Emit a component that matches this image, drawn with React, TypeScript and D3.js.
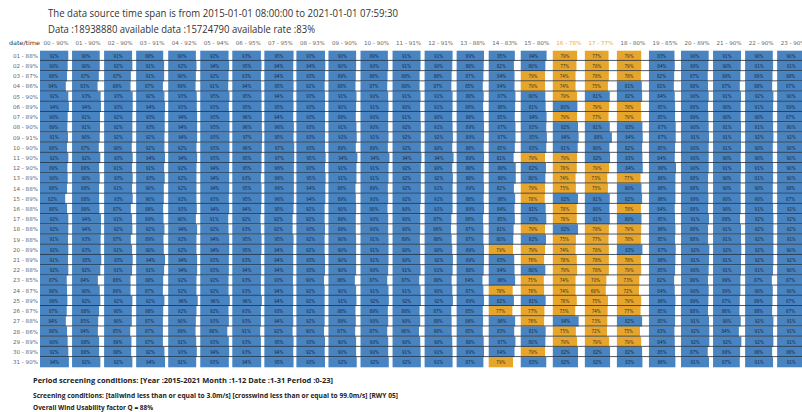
import React, { useEffect } from "react";
import * as d3 from "d3";

// hour columns and their overall rate
const hourLabels = ["00","01","02","03","04","05","06","07","08","09","10","11","12","13","14","15","16","17","18","19","20","21","22","23"];
const hourRates = [90,90,90,91,92,94,95,95,93,90,90,91,91,88,83,80,78,77,80,85,89,90,90,90];

// date rows and their overall rate
const dateLabels = ["01","02","03","04","05","06","07","08","09","10","11","12","13","14","15","16","17","18","19","20","21","22","23","24","25","26","27","28","29","30","31"];
const dateRates = [88,89,87,86,90,89,89,90,91,90,90,90,89,88,89,88,88,88,88,89,89,88,85,87,89,87,88,86,89,89,90];

// usability per date (row) x hour (column)
const cellRates = [
  [92,90,91,88,90,92,93,95,93,90,89,91,91,89,85,84,79,77,79,83,90,91,90,90],
  [90,90,92,91,92,94,95,94,94,90,90,91,90,88,82,80,77,78,79,84,89,90,91,91],
  [88,87,87,91,90,92,93,94,93,89,88,88,88,87,84,79,74,78,78,82,87,89,89,88],
  [84,83,86,87,89,91,94,95,92,88,87,88,87,85,84,79,74,75,81,81,88,87,88,87],
  [92,93,93,92,93,95,95,94,93,91,90,91,91,88,87,80,79,81,82,84,90,91,92,90],
  [94,94,93,94,93,93,95,95,93,90,91,90,91,86,86,81,80,79,78,85,88,90,91,89],
  [90,91,92,93,94,95,96,94,93,89,90,91,90,88,85,84,79,77,79,85,89,90,90,87],
  [89,91,92,93,94,95,96,96,93,91,90,92,91,89,87,83,82,81,83,87,90,91,91,90],
  [91,90,92,92,94,95,97,95,93,92,91,92,92,89,87,85,84,88,84,87,91,91,92,92],
  [88,87,90,92,92,95,96,97,93,89,89,92,90,88,85,83,81,80,82,85,90,91,90,90],
  [92,92,93,94,94,95,95,97,95,94,94,94,94,89,81,79,79,82,83,84,90,90,90,90],
  [89,88,91,91,92,94,95,96,93,91,91,92,90,88,88,82,78,79,84,88,90,91,91,90],
  [90,90,93,93,92,94,93,96,95,91,91,92,92,88,88,80,74,73,77,86,88,90,91,90],
  [88,88,91,90,92,94,95,96,94,88,89,92,91,89,82,79,75,75,80,86,88,90,90,88],
  [82,88,93,90,92,93,95,96,94,89,90,92,91,88,86,78,82,81,82,86,89,90,90,87],
  [88,89,87,88,93,94,94,95,92,90,88,90,91,89,84,81,78,80,78,84,88,90,91,92],
  [92,94,91,89,90,91,92,92,92,89,90,90,87,86,85,83,78,81,80,85,91,88,92,92],
  [92,94,92,92,94,92,93,92,93,89,90,90,86,87,81,79,82,78,79,86,88,91,92,92],
  [91,93,87,89,92,94,95,95,92,90,91,89,88,87,80,82,75,77,78,85,88,91,92,91],
  [92,93,91,90,92,94,95,94,92,90,91,90,90,89,79,79,74,78,83,87,92,92,92,90],
  [91,95,93,94,94,93,93,94,93,90,91,90,92,89,83,76,78,78,78,86,91,91,92,92],
  [92,92,91,91,94,93,94,94,93,90,90,91,91,88,84,80,79,78,79,85,90,91,91,90],
  [87,84,86,88,92,92,93,93,90,86,87,87,88,84,86,75,74,70,73,82,88,89,87,87],
  [88,90,86,87,92,92,93,94,92,90,91,91,90,87,78,76,74,68,72,84,90,89,90,90],
  [89,92,92,92,96,96,96,94,92,91,92,92,92,89,82,81,78,75,79,86,89,87,89,87],
  [87,88,90,88,92,92,93,93,92,88,89,88,87,85,77,77,73,74,77,85,88,86,88,87],
  [84,85,90,87,90,93,93,94,92,89,90,90,88,86,86,76,84,73,82,85,91,90,92,91],
  [88,84,85,87,89,88,91,92,90,87,87,86,88,85,83,81,75,72,75,83,92,84,91,91],
  [90,88,89,87,91,93,93,95,93,90,90,90,90,88,87,80,79,79,79,84,92,92,92,91],
  [92,88,88,92,93,94,93,94,92,90,90,91,91,89,84,79,82,82,82,85,87,88,88,88],
  [94,92,92,94,91,93,94,95,93,92,92,92,91,87,79,83,82,82,83,86,91,87,91,91],
];

const titleLines = [
  "The data source time span is from 2015-01-01 08:00:00 to 2021-01-01 07:59:30",
  "Data :18938880 available data :15724790 available rate :83%",
];
const footerLines = [
  "Period screening conditions: [Year :2015-2021 Month :1-12 Date :1-31 Period :0-23]",
  "Screening conditions: [tailwind less than or equal to 3.0m/s] [crosswind less than or equal to 99.0m/s] [RWY 05]",
  "Overall Wind Usability factor Q = 88%",
];

const BLUE = "#4884c2";
const ORANGE = "#e7a52b";
const LOW = 80;

const pct = (v: number) => `${v}%`;

export default function App() {
  useEffect(() => {
    document.body.style.margin = "0";
  }, []);

  const W = 802;
  const H = 412;
  const left = 40;
  const colStep = 32.05;
  const top = 50.7;
  const bottom = 367.3;

  const x = d3.scaleBand<string>().domain(hourLabels).range([left, left + colStep * hourLabels.length]);
  const y = d3.scaleBand<string>().domain(dateLabels).range([top, bottom]);
  const barW = d3.scaleLinear().domain([0, 100]).range([0, x.step() - 1.3]);
  const color = (v: number) => (v < LOW ? ORANGE : BLUE);

  const small = "'Liberation Sans Narrow', 'DejaVu Sans Condensed', 'Liberation Sans', sans-serif";
  const body = "'Open Sans', 'Noto Sans', sans-serif";

  return (
    <svg width={W} height={H} style={{ display: "block", background: "#fff" }}>
      {/* titles */}
      <text x={48} y={16.5} fontFamily={body} fontSize={10.5} fill="#333" textLength={350} lengthAdjust="spacingAndGlyphs">
        {titleLines[0]}
      </text>
      <text x={48} y={32.5} fontFamily={body} fontSize={10.5} fill="#333" textLength={267} lengthAdjust="spacingAndGlyphs">
        {titleLines[1]}
      </text>

      {/* header row */}
      <text x={9} y={45} fontFamily={small} fontSize={6} fill="#333" textLength={31} lengthAdjust="spacingAndGlyphs">
        date/time
      </text>
      {hourLabels.map((h, i) => (
        <text
          key={h}
          x={x(h)! + x.step() / 2}
          y={45}
          textAnchor="middle"
          fontFamily={small}
          fontSize={5.5}
          fill={hourRates[i] < LOW ? "#e9ad3a" : "#666"}
          textLength={25}
          lengthAdjust="spacingAndGlyphs"
        >
          {`${h}  -  ${pct(hourRates[i])}`}
        </text>
      ))}

      {/* row labels */}
      {dateLabels.map((d, i) => (
        <text
          key={d}
          x={38}
          y={y(d)! + y.bandwidth() / 2 + 2}
          textAnchor="end"
          fontFamily={small}
          fontSize={5.5}
          fill="#666"
          textLength={25}
          lengthAdjust="spacingAndGlyphs"
        >
          {`${d}  -  ${pct(dateRates[i])}`}
        </text>
      ))}

      {/* bars */}
      {cellRates.map((row, r) =>
        row.map((v, c) => (
          <rect
            key={`${r}-${c}`}
            x={x(hourLabels[c])!}
            y={y(dateLabels[r])!}
            width={barW(v)}
            height={y.bandwidth()}
            fill={color(v)}
          />
        ))
      )}

      {/* row separators */}
      {dateLabels.slice(1).map((d) => (
        <line
          key={`l${d}`}
          x1={left}
          x2={W}
          y1={y(d)! - 0.5}
          y2={y(d)! - 0.5}
          stroke="#23303d"
          strokeOpacity={0.8}
          strokeWidth={1}
        />
      ))}

      {/* cell labels */}
      {cellRates.map((row, r) =>
        row.map((v, c) => (
          <text
            key={`t${r}-${c}`}
            x={x(hourLabels[c])! + barW(v) / 2}
            y={y(dateLabels[r])! + y.bandwidth() / 2 + 1.8}
            textAnchor="middle"
            fontFamily={small}
            fontSize={5.5}
            fill={v < LOW ? "#3a3020" : "#16263c"}
            textLength={9}
            lengthAdjust="spacingAndGlyphs"
          >
            {pct(v)}
          </text>
        ))
      )}

      {/* footer */}
      {footerLines.map((t, i) => (
        <text
          key={i}
          x={33}
          y={[382.5, 397.5, 410][i]}
          fontFamily={body}
          fontSize={6.6}
          fontWeight="bold"
          fill="#222"
          textLength={[300, 365, 120][i]}
          lengthAdjust="spacingAndGlyphs"
        >
          {t}
        </text>
      ))}
    </svg>
  );
}
